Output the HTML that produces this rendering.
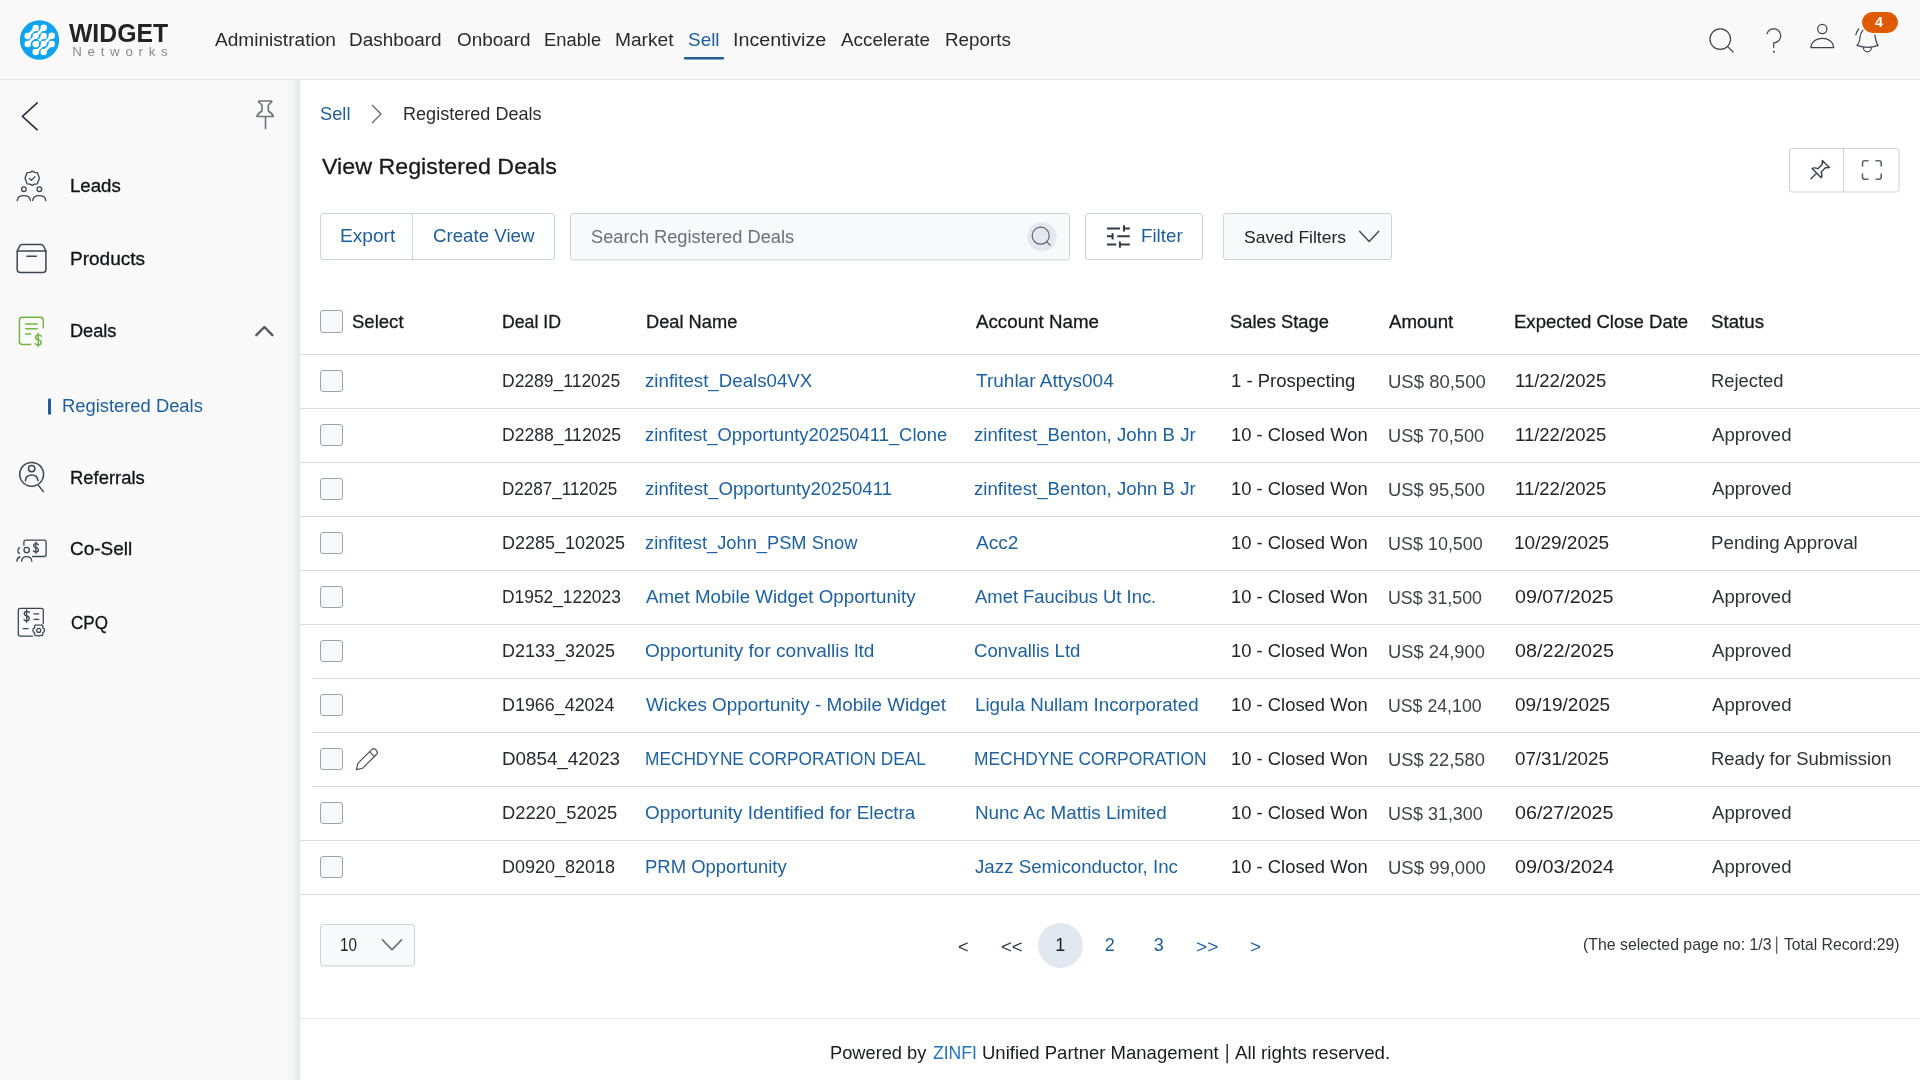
<!DOCTYPE html>
<html><head><meta charset="utf-8"><title>View Registered Deals</title>
<style>
html,body{margin:0;padding:0;width:1920px;height:1080px;overflow:hidden;background:#ffffff;}
body{position:relative;font-family:"Liberation Sans",sans-serif;}
svg.ov{position:absolute;left:0;top:0;}
.t{position:absolute;white-space:nowrap;line-height:1;transform-origin:0 0;font-family:"Liberation Sans",sans-serif;}
</style></head><body>
<svg class="ov" width="1920" height="1080" viewBox="0 0 1920 1080">
<defs>
<linearGradient id="sh" x1="0" x2="1" y1="0" y2="0">
<stop offset="0" stop-color="#f9f9fa" stop-opacity="0"/>
<stop offset="1" stop-color="#e4e6e9" stop-opacity="1"/>
</linearGradient>
</defs>
<!-- header & sidebar backgrounds -->
<rect x="0" y="0" width="1920" height="79" fill="#f9f9fa"/>
<rect x="0" y="79" width="1920" height="1" fill="#e3e6ea"/>
<rect x="0" y="80" width="300" height="1000" fill="#f9f9fa"/>
<rect x="284" y="80" width="16" height="1000" fill="url(#sh)"/>
<!-- logo -->
<circle cx="39.5" cy="40" r="19.7" fill="#10a3ee"/>
<g stroke="#ffffff" stroke-width="2.8" fill="none" stroke-linecap="round">
<path d="M27.7,36 L35.7,28 M27.7,44 L43.7,28 M35.7,44 L43.7,36 M35.7,52 L51.7,36 M43.7,52 L51.7,44"/>
</g>
<g fill="#ffffff">
<circle cx="35.7" cy="28" r="3.2"/><circle cx="43.7" cy="27.7" r="3.2"/>
<circle cx="27.7" cy="36" r="3.2"/><circle cx="35.7" cy="36" r="3"/><circle cx="43.7" cy="36" r="3.2"/><circle cx="51.7" cy="35.7" r="3.2"/>
<circle cx="27.7" cy="44" r="3.2"/><circle cx="35.7" cy="44.3" r="3.2"/><circle cx="43.7" cy="43.7" r="3"/><circle cx="51.7" cy="44" r="3.2"/>
<circle cx="35.7" cy="52" r="3.2"/><circle cx="43.7" cy="52" r="3.2"/>
</g>
<circle cx="35.7" cy="44.3" r="4.3" fill="none" stroke="#10a3ee" stroke-width="1.1"/>
<!-- nav underline -->
<rect x="684" y="57" width="40" height="2.6" rx="1" fill="#1f5c99"/>
<!-- header icons -->
<g stroke="#3b424d" stroke-width="1.2" fill="none" stroke-linecap="round" stroke-linejoin="round">
<circle cx="1720.25" cy="39.1" r="10.3"/>
<path d="M1727.9,46.9 L1733,52"/>
<path d="M1767,33.8 A7,7 0 1 1 1773.7,42.8 L1773.7,47.3"/>
<circle cx="1822.3" cy="29" r="4.6"/>
<path d="M1810.9,47.6 C1811.5,41 1817,38.3 1822.3,38.3 C1827.6,38.3 1833.1,41 1833.7,47.6 Z"/>
<path d="M1862.9,30.1 C1861,32.5 1860.3,35 1860.1,37 C1859.8,40.5 1859.5,43 1856.9,45.4 Q1867.3,49.2 1878.2,45.4 C1875.9,43 1875.8,39.5 1874.9,35.1"/>
<path d="M1863.5,47.9 A3.9,3.9 0 0 0 1871.3,47.9"/>
<path d="M1855.8,34.8 Q1856.6,31.2 1858.8,29" stroke-width="1.2"/>
</g>
<circle cx="1773.9" cy="51.8" r="0.95" fill="#3a414c"/>
<rect x="1862" y="12.1" width="36" height="20.8" rx="10.4" fill="#e05a02"/>
<!-- sidebar icons -->
<g stroke="#2f3648" stroke-width="1.7" fill="none" stroke-linecap="round" stroke-linejoin="round">
<path d="M37.2,102.8 L22.4,116.4 L37.2,129.8"/>
</g>
<g stroke="#707378" stroke-width="1.6" fill="none" stroke-linejoin="round" stroke-linecap="round">
<path d="M259,101 L271.3,101 Q272,101.5 271.5,102.2 L268.3,105 L268.3,111 Q272.5,113.5 273.3,116.5 L256.9,116.5 Q257.7,113.5 262,111 L262,105 L258.8,102.2 Q258.3,101.5 259,101 Z"/>
<path d="M265.5,117 L265.5,128.6"/>
</g>
<g stroke="#3d4554" stroke-width="1.5" fill="none" stroke-linecap="round" stroke-linejoin="round">
<!-- leads -->
<path d="M32.2,171.2 L34.6,172.4 L37.3,172.6 L38.3,175.2 L39.4,178.3 L38.3,181.2 L37.3,183.8 L34.6,184.2 L32.2,185.4 L29.8,184.2 L27.1,183.8 L26.1,181.2 L25,178.3 L26.1,175.2 L27.1,172.6 L29.8,172.4 Z" stroke-width="1.3"/>
<path d="M29.4,178.4 L31.4,180.4 L35,176.6" stroke-width="1.3"/>
<circle cx="23.9" cy="189.2" r="2.3" stroke-width="1.3"/>
<circle cx="39.4" cy="189.2" r="2.3" stroke-width="1.3"/>
<path d="M17.2,200.5 C17.6,197.3 20.3,195.6 23.8,195.6 C27.3,195.6 30,197.3 30.4,200.5" stroke-width="1.3"/>
<path d="M32.6,200.5 C33,197.3 35.7,195.6 39.2,195.6 C42.7,195.6 45.4,197.3 45.8,200.5" stroke-width="1.3"/>
<!-- products -->
<path d="M17.2,251 L19.8,245.8 Q20.6,244.4 22.2,244.4 L41,244.4 Q42.6,244.4 43.4,245.8 L45.9,251 L45.9,269.6 Q45.9,272.6 42.9,272.6 L20.2,272.6 Q17.2,272.6 17.2,269.6 Z"/>
<path d="M17.2,251 L45.9,251"/>
<path d="M26.9,256.2 L36.3,256.2"/>
<!-- referrals -->
<circle cx="31.65" cy="474.3" r="11.9"/>
<circle cx="31.7" cy="468.6" r="3.2"/>
<path d="M25.4,480.8 C25.8,476.8 28.3,475 31.7,475 C35.1,475 37.6,476.8 38,480.8"/>
<path d="M38.6,485.6 L43.4,491.6"/>
<!-- co-sell -->
<path d="M23.9,545.2 L23.9,542.2 Q23.9,540.2 25.9,540.2 L44.1,540.2 Q46.1,540.2 46.1,542.2 L46.1,554.5 Q46.1,556.5 44.1,556.5 L32.5,556.5" stroke-width="1.3"/>
<circle cx="26.7" cy="550" r="2.7" stroke-width="1.3"/>
<path d="M21.6,561.2 C21.8,558.3 23.8,556.6 26.7,556.6 C29.6,556.6 31.6,558.3 31.8,561.2" stroke-width="1.3"/>
<path d="M19.6,547.6 C17.6,548.4 17.2,552.4 19.4,553.4" stroke-width="1.3"/>
<path d="M16.9,561.2 C17,559 18.2,557.4 20,557" stroke-width="1.3"/>
<path d="M38.3,544.6 Q37.6,543.6 35.9,543.6 Q33.6,543.6 33.6,545.5 Q33.6,547.2 35.9,547.6 Q38.4,548 38.4,550 Q38.4,552 35.9,552 Q34,552 33.4,550.9 M35.9,542.2 L35.9,553.4" stroke-width="1.3"/>
<!-- cpq -->
<path d="M32.5,636.1 L20.3,636.1 Q18.3,636.1 18.3,634.1 L18.3,610.3 Q18.3,608.3 20.3,608.3 L41.3,608.3 Q43.3,608.3 43.3,610.3 L43.3,623.5" stroke-width="1.3"/>
<path d="M29.3,612.4 Q28.6,611.4 26.7,611.4 Q24.3,611.4 24.3,613.6 Q24.3,615.6 26.7,616 Q29.2,616.4 29.2,618.6 Q29.2,620.8 26.7,620.8 Q24.7,620.8 24,619.6 M26.7,610 L26.7,622.3" stroke-width="1.3"/>
<path d="M34,613.9 L38.7,613.9 M34,619.4 L38.7,619.4 M23.3,628.7 L28.1,628.7" stroke-width="1.3"/>
<path d="M38.7,624.8 L40.3,625.3 L41.8,624.8 L43,626 L42.6,627.7 L44.4,629 L44.4,631.6 L42.6,632.9 L43,634.6 L41.8,635.8 L40.3,635.3 L38.7,636.3 L37.1,635.3 L35.6,635.8 L34.4,634.6 L34.8,632.9 L33,631.6 L33,629 L34.8,627.7 L34.4,626 L35.6,624.8 L37.1,625.3 Z" stroke-width="1.2"/>
<circle cx="38.7" cy="630.4" r="2" stroke-width="1.2"/>
</g>
<!-- deals icon (green) -->
<g stroke="#74b543" stroke-width="1.5" fill="none" stroke-linecap="round" stroke-linejoin="round">
<path d="M30.6,344.4 L22.4,344.4 Q19.4,344.4 19.4,341.4 L19.4,320.2 Q19.4,317.2 22.4,317.2 L40.3,317.2 Q43.3,317.2 43.3,320.2 L43.3,327.8"/>
<path d="M25.6,323.9 L37.2,323.9 M25.6,328.7 L37.2,328.7 M25.6,333.9 L30.6,333.9"/>
<path d="M41.3,336.2 Q40.5,335 38.3,335 Q35.6,335 35.6,337.4 Q35.6,339.4 38.3,339.8 Q41.2,340.2 41.2,342.6 Q41.2,345 38.3,345 Q36,345 35.2,343.6 M38.3,333.2 L38.3,346.6"/>
</g>
<path d="M256.3,335.2 L264.4,327 L272.4,335.2" stroke="#555a60" stroke-width="2.4" fill="none" stroke-linecap="round" stroke-linejoin="round"/>
<rect x="48" y="398.2" width="3" height="16.6" rx="1.5" fill="#1f5c99"/>
<!-- breadcrumb chevron -->
<path d="M372,105 L381,114 L372,123" stroke="#5f646b" stroke-width="1.2" fill="none" stroke-linejoin="round"/>
<!-- pin/expand group -->
<rect x="1789.5" y="148.5" width="109.5" height="43.5" rx="2.5" fill="#ffffff" stroke="#cdd2d9"/>
<path d="M1843.5,148.5 L1843.5,192" stroke="#cdd2d9"/>
<g transform="translate(1818.8,171) rotate(45)" stroke="#3a414c" stroke-width="1.4" fill="none" stroke-linejoin="round" stroke-linecap="round">
<path d="M-5,-10 L5,-10 L2.3,-7 L2.3,-1 Q6,0.5 6.5,3 L-6.5,3 Q-6,0.5 -2.3,-1 L-2.3,-7 Z"/>
<path d="M0,3 L0,11"/>
</g>
<path d="M1862.5,166 L1862.5,163 Q1862.5,160.8 1864.7,160.8 L1868,160.8 M1876,160.8 L1879,160.8 Q1881.2,160.8 1881.2,163 L1881.2,166 M1881.2,174 L1881.2,177 Q1881.2,179.2 1879,179.2 L1876,179.2 M1868,179.2 L1864.7,179.2 Q1862.5,179.2 1862.5,177 L1862.5,174" stroke="#5f646b" stroke-width="1.6" fill="none" stroke-linecap="round"/>
<!-- toolbar -->
<rect x="320.5" y="213.5" width="234" height="46" rx="2.5" fill="#ffffff" stroke="#cdd3da"/>
<path d="M412.5,213.5 L412.5,259.5" stroke="#cdd3da"/>
<rect x="570.5" y="213.5" width="499" height="46.5" rx="2.5" fill="#f7f9fb" stroke="#cdd3da"/>
<circle cx="1042" cy="236.8" r="14.6" fill="#e3e8ef"/>
<circle cx="1040.7" cy="235.7" r="8.5" stroke="#5d636c" stroke-width="1.2" fill="none"/>
<path d="M1046.8,241.8 L1050.6,245.6" stroke="#5d636c" stroke-width="1.2"/>
<rect x="1085.5" y="213.5" width="117" height="46" rx="2.5" fill="#ffffff" stroke="#cdd3da"/>
<g stroke="#333a44" stroke-width="2" fill="none">
<path d="M1107,228.4 H1120 M1124,228.4 H1129.8 M1124,225.3 V231.5"/>
<path d="M1107,236.3 H1113 M1117.3,236.3 H1129.8 M1112.6,233.2 V239.4"/>
<path d="M1107,244.4 H1116.3 M1119.9,244.4 H1129.8 M1119.9,241.5 V247.7"/>
</g>
<rect x="1223.5" y="213.5" width="168" height="46" rx="2.5" fill="#f7f9fb" stroke="#cdd3da"/>
<path d="M1359.3,231 L1369.2,241.5 L1379,231" stroke="#4a4f57" stroke-width="1.6" fill="none" stroke-linejoin="round"/>
<!-- table lines -->
<g stroke="#d6dbe2" stroke-width="1">
<path d="M300,354.5 H1920 M300,408.5 H1920 M300,462.5 H1920 M300,516.5 H1920 M300,570.5 H1920 M300,624.5 H1920 M312,678.5 H1920 M312,732.5 H1920 M312,786.5 H1920 M300,840.5 H1920 M300,894.5 H1920"/>
</g>
<!-- checkboxes -->
<g fill="#f6f8fa" stroke="#9ca3ad" stroke-width="1">
<rect x="320.5" y="310.5" width="22" height="22" rx="2.5"/>
<rect x="320.5" y="370.5" width="22" height="21" rx="2.5"/>
<rect x="320.5" y="424.5" width="22" height="21" rx="2.5"/>
<rect x="320.5" y="478.5" width="22" height="21" rx="2.5"/>
<rect x="320.5" y="532.5" width="22" height="21" rx="2.5"/>
<rect x="320.5" y="586.5" width="22" height="21" rx="2.5"/>
<rect x="320.5" y="640.5" width="22" height="21" rx="2.5"/>
<rect x="320.5" y="694.5" width="22" height="21" rx="2.5"/>
<rect x="320.5" y="748.5" width="22" height="21" rx="2.5"/>
<rect x="320.5" y="802.5" width="22" height="21" rx="2.5"/>
<rect x="320.5" y="856.5" width="22" height="21" rx="2.5"/>
</g>
<!-- pencil -->
<g stroke="#484d55" stroke-width="1.15" fill="none" stroke-linejoin="round" stroke-linecap="round">
<path d="M356.3,769.6 L357.9,763.4 L371.6,749.7 Q373.6,747.7 375.6,749.7 L376.4,750.5 Q378.4,752.5 376.4,754.5 L362.7,768.2 Z"/>
<path d="M369.6,751.7 L374.5,756.6"/>
</g>
<!-- pagination -->
<rect x="320.5" y="924.5" width="94" height="41.5" rx="2.5" fill="#f7f9fb" stroke="#cdd3da"/>
<path d="M382,939.2 L392,949.7 L402,939.2" stroke="#606469" stroke-width="1.55" fill="none" stroke-linejoin="round"/>
<circle cx="1060.4" cy="945.4" r="22.5" fill="#e2e8f0"/>
<path d="M1776.7,936.5 L1776.7,953.8" stroke="#4a4f57" stroke-width="1.2"/>
<!-- footer -->
<rect x="300" y="1018" width="1620" height="1" fill="#e5e7eb"/>
<path d="M1227.2,1043.9 L1227.2,1063.3" stroke="#222" stroke-width="1.4"/>
</svg>
<div id="txt" style="position:absolute;left:0;top:0;width:1920px;height:1080px;will-change:transform;">
<div class="t" id="logo1" style="left:69.30px;top:19.67px;font-size:26.50px;color:#232323;font-weight:700;transform:scaleX(0.9343);">WIDGET</div>
<div class="t" id="logo2" style="left:72.20px;top:44.58px;font-size:13.25px;color:#8a8a8a;letter-spacing:5.757px;">Networks</div>
<div class="t" id="nav0" style="left:214.75px;top:29.85px;font-size:19.08px;color:#2a2a2a;transform:scaleX(1.0001);">Administration</div>
<div class="t" id="nav1" style="left:349.32px;top:29.85px;font-size:19.08px;color:#2a2a2a;transform:scaleX(0.9916);">Dashboard</div>
<div class="t" id="nav2" style="left:456.75px;top:29.85px;font-size:19.08px;color:#2a2a2a;transform:scaleX(0.9889);">Onboard</div>
<div class="t" id="nav3" style="left:543.62px;top:29.85px;font-size:19.08px;color:#2a2a2a;transform:scaleX(0.9612);">Enable</div>
<div class="t" id="nav4" style="left:615.40px;top:29.85px;font-size:19.08px;color:#2a2a2a;transform:scaleX(1.0031);">Market</div>
<div class="t" id="nav5" style="left:688.46px;top:29.85px;font-size:19.08px;color:#1d5d9a;transform:scaleX(0.9922);">Sell</div>
<div class="t" id="nav6" style="left:733.26px;top:29.85px;font-size:19.08px;color:#2a2a2a;transform:scaleX(1.0346);">Incentivize</div>
<div class="t" id="nav7" style="left:841.41px;top:29.85px;font-size:19.08px;color:#2a2a2a;transform:scaleX(0.9879);">Accelerate</div>
<div class="t" id="nav8" style="left:945.45px;top:29.85px;font-size:19.08px;color:#2a2a2a;transform:scaleX(0.9867);">Reports</div>
<div class="t" id="side0" style="left:69.76px;top:175.55px;font-size:19.08px;color:#0f1114;-webkit-text-stroke:0.3px #0f1114;transform:scaleX(0.9765);">Leads</div>
<div class="t" id="side1" style="left:69.56px;top:248.55px;font-size:19.08px;color:#0f1114;-webkit-text-stroke:0.3px #0f1114;transform:scaleX(0.9977);">Products</div>
<div class="t" id="side2" style="left:69.64px;top:320.75px;font-size:19.08px;color:#0f1114;-webkit-text-stroke:0.3px #0f1114;transform:scaleX(0.9518);">Deals</div>
<div class="t" id="side3" style="left:69.62px;top:467.75px;font-size:19.08px;color:#0f1114;-webkit-text-stroke:0.3px #0f1114;transform:scaleX(0.9648);">Referrals</div>
<div class="t" id="side4" style="left:69.56px;top:539.45px;font-size:19.08px;color:#0f1114;-webkit-text-stroke:0.3px #0f1114;transform:scaleX(0.9953);">Co-Sell</div>
<div class="t" id="side5" style="left:70.60px;top:612.75px;font-size:19.08px;color:#0f1114;-webkit-text-stroke:0.3px #0f1114;transform:scaleX(0.8925);">CPQ</div>
<div class="t" id="subreg" style="left:61.64px;top:397.45px;font-size:18.02px;color:#1d5d9a;transform:scaleX(1.0192);">Registered Deals</div>
<div class="t" id="bc1" style="left:319.90px;top:105.45px;font-size:18.02px;color:#1d5d9a;transform:scaleX(1.0146);">Sell</div>
<div class="t" id="bc2" style="left:402.79px;top:105.45px;font-size:18.02px;color:#2b2b2b;transform:scaleX(1.0029);">Registered Deals</div>
<div class="t" id="title" style="left:321.63px;top:155.74px;font-size:22.40px;color:#1a1a1a;-webkit-text-stroke:0.3px #1a1a1a;transform:scaleX(1.0385);">View Registered Deals</div>
<div class="t" id="exp" style="left:340.42px;top:226.55px;font-size:18.02px;color:#1d5d9a;transform:scaleX(1.0616);">Export</div>
<div class="t" id="cv" style="left:432.64px;top:226.55px;font-size:18.02px;color:#1d5d9a;transform:scaleX(1.0370);">Create View</div>
<div class="t" id="srch" style="left:590.90px;top:227.65px;font-size:18.02px;color:#6b7079;transform:scaleX(1.0146);">Search Registered Deals</div>
<div class="t" id="filt" style="left:1140.67px;top:225.85px;font-size:19.08px;color:#1d5d9a;transform:scaleX(0.9817);">Filter</div>
<div class="t" id="savf" style="left:1244.24px;top:230.34px;font-size:16.96px;color:#222222;transform:scaleX(1.0319);">Saved Filters</div>
<div class="t" id="h0" style="left:351.54px;top:312.75px;font-size:18.02px;color:#17191c;-webkit-text-stroke:0.3px #17191c;transform:scaleX(1.0294);">Select</div>
<div class="t" id="h1" style="left:502.38px;top:312.75px;font-size:18.02px;color:#17191c;-webkit-text-stroke:0.3px #17191c;transform:scaleX(0.9824);">Deal ID</div>
<div class="t" id="h2" style="left:645.53px;top:312.75px;font-size:18.02px;color:#17191c;-webkit-text-stroke:0.3px #17191c;transform:scaleX(1.0129);">Deal Name</div>
<div class="t" id="h3" style="left:975.81px;top:312.75px;font-size:18.02px;color:#17191c;-webkit-text-stroke:0.3px #17191c;transform:scaleX(1.0403);">Account Name</div>
<div class="t" id="h4" style="left:1230.45px;top:312.75px;font-size:18.02px;color:#17191c;-webkit-text-stroke:0.3px #17191c;transform:scaleX(1.0174);">Sales Stage</div>
<div class="t" id="h5" style="left:1388.78px;top:312.75px;font-size:18.02px;color:#17191c;-webkit-text-stroke:0.3px #17191c;transform:scaleX(1.0355);">Amount</div>
<div class="t" id="h6" style="left:1514.35px;top:312.75px;font-size:18.02px;color:#17191c;-webkit-text-stroke:0.3px #17191c;transform:scaleX(1.0292);">Expected Close Date</div>
<div class="t" id="h7" style="left:1711.18px;top:312.75px;font-size:18.02px;color:#17191c;-webkit-text-stroke:0.3px #17191c;transform:scaleX(1.0385);">Status</div>
<div class="t" id="r0c0" style="left:502.25px;top:371.65px;font-size:18.02px;color:#26292e;transform:scaleX(0.9704);">D2289_112025</div>
<div class="t" id="r0c1" style="left:645.34px;top:371.65px;font-size:18.02px;color:#1f619e;transform:scaleX(1.0374);">zinfitest_Deals04VX</div>
<div class="t" id="r0c2" style="left:975.79px;top:371.65px;font-size:18.02px;color:#1f619e;transform:scaleX(1.0555);">Truhlar Attys004</div>
<div class="t" id="r0c3" style="left:1230.76px;top:371.65px;font-size:18.02px;color:#222428;transform:scaleX(1.0264);">1 - Prospecting</div>
<div class="t" id="r0c4" style="left:1387.66px;top:372.65px;font-size:18.02px;color:#3f4348;transform:scaleX(1.0273);">US$ 80,500</div>
<div class="t" id="r0c5" style="left:1514.50px;top:371.65px;font-size:18.02px;color:#222428;transform:scaleX(1.0264);">11/22/2025</div>
<div class="t" id="r0c6" style="left:1711.36px;top:371.65px;font-size:18.02px;color:#2e3136;transform:scaleX(1.0197);">Rejected</div>
<div class="t" id="r1c0" style="left:502.24px;top:425.65px;font-size:18.02px;color:#26292e;transform:scaleX(0.9766);">D2288_112025</div>
<div class="t" id="r1c1" style="left:645.35px;top:425.65px;font-size:18.02px;color:#1f619e;transform:scaleX(1.0203);">zinfitest_Opportunty20250411_Clone</div>
<div class="t" id="r1c2" style="left:974.30px;top:425.65px;font-size:18.02px;color:#1f619e;transform:scaleX(1.0343);">zinfitest_Benton, John B Jr</div>
<div class="t" id="r1c3" style="left:1230.77px;top:425.65px;font-size:18.02px;color:#222428;transform:scaleX(1.0209);">10 - Closed Won</div>
<div class="t" id="r1c4" style="left:1387.66px;top:426.65px;font-size:18.02px;color:#3f4348;transform:scaleX(1.0106);">US$ 70,500</div>
<div class="t" id="r1c5" style="left:1514.50px;top:425.65px;font-size:18.02px;color:#222428;transform:scaleX(1.0264);">11/22/2025</div>
<div class="t" id="r1c6" style="left:1712.38px;top:425.65px;font-size:18.02px;color:#2e3136;transform:scaleX(1.0309);">Approved</div>
<div class="t" id="r2c0" style="left:502.27px;top:479.65px;font-size:18.02px;color:#26292e;transform:scaleX(0.9456);">D2287_112025</div>
<div class="t" id="r2c1" style="left:645.34px;top:479.65px;font-size:18.02px;color:#1f619e;transform:scaleX(1.0335);">zinfitest_Opportunty20250411</div>
<div class="t" id="r2c2" style="left:974.30px;top:479.65px;font-size:18.02px;color:#1f619e;transform:scaleX(1.0343);">zinfitest_Benton, John B Jr</div>
<div class="t" id="r2c3" style="left:1230.77px;top:479.65px;font-size:18.02px;color:#222428;transform:scaleX(1.0209);">10 - Closed Won</div>
<div class="t" id="r2c4" style="left:1387.64px;top:480.65px;font-size:18.02px;color:#3f4348;transform:scaleX(1.0188);">US$ 95,500</div>
<div class="t" id="r2c5" style="left:1514.50px;top:479.65px;font-size:18.02px;color:#222428;transform:scaleX(1.0264);">11/22/2025</div>
<div class="t" id="r2c6" style="left:1712.38px;top:479.65px;font-size:18.02px;color:#2e3136;transform:scaleX(1.0309);">Approved</div>
<div class="t" id="r3c0" style="left:502.22px;top:533.65px;font-size:18.02px;color:#26292e;transform:scaleX(0.9982);">D2285_102025</div>
<div class="t" id="r3c1" style="left:645.36px;top:533.65px;font-size:18.02px;color:#1f619e;transform:scaleX(1.0149);">zinfitest_John_PSM Snow</div>
<div class="t" id="r3c2" style="left:975.78px;top:533.65px;font-size:18.02px;color:#1f619e;transform:scaleX(1.0576);">Acc2</div>
<div class="t" id="r3c3" style="left:1230.77px;top:533.65px;font-size:18.02px;color:#222428;transform:scaleX(1.0209);">10 - Closed Won</div>
<div class="t" id="r3c4" style="left:1387.66px;top:534.65px;font-size:18.02px;color:#3f4348;transform:scaleX(0.9965);">US$ 10,500</div>
<div class="t" id="r3c5" style="left:1514.47px;top:533.65px;font-size:18.02px;color:#222428;transform:scaleX(1.0552);">10/29/2025</div>
<div class="t" id="r3c6" style="left:1711.34px;top:533.65px;font-size:18.02px;color:#2e3136;transform:scaleX(1.0390);">Pending Approval</div>
<div class="t" id="r4c0" style="left:502.25px;top:587.65px;font-size:18.02px;color:#26292e;transform:scaleX(0.9645);">D1952_122023</div>
<div class="t" id="r4c1" style="left:646.38px;top:587.65px;font-size:18.02px;color:#1f619e;transform:scaleX(1.0393);">Amet Mobile Widget Opportunity</div>
<div class="t" id="r4c2" style="left:975.31px;top:587.65px;font-size:18.02px;color:#1f619e;transform:scaleX(1.0225);">Amet Faucibus Ut Inc.</div>
<div class="t" id="r4c3" style="left:1230.77px;top:587.65px;font-size:18.02px;color:#222428;transform:scaleX(1.0209);">10 - Closed Won</div>
<div class="t" id="r4c4" style="left:1387.67px;top:588.65px;font-size:18.02px;color:#3f4348;transform:scaleX(0.9880);">US$ 31,500</div>
<div class="t" id="r4c5" style="left:1514.53px;top:587.65px;font-size:18.02px;color:#222428;transform:scaleX(1.0926);">09/07/2025</div>
<div class="t" id="r4c6" style="left:1712.38px;top:587.65px;font-size:18.02px;color:#2e3136;transform:scaleX(1.0309);">Approved</div>
<div class="t" id="r5c0" style="left:502.22px;top:641.65px;font-size:18.02px;color:#26292e;transform:scaleX(0.9980);">D2133_32025</div>
<div class="t" id="r5c1" style="left:645.33px;top:641.65px;font-size:18.02px;color:#1f619e;transform:scaleX(1.0555);">Opportunity for convallis ltd</div>
<div class="t" id="r5c2" style="left:974.29px;top:641.65px;font-size:18.02px;color:#1f619e;transform:scaleX(1.0316);">Convallis Ltd</div>
<div class="t" id="r5c3" style="left:1230.77px;top:641.65px;font-size:18.02px;color:#222428;transform:scaleX(1.0209);">10 - Closed Won</div>
<div class="t" id="r5c4" style="left:1387.64px;top:642.65px;font-size:18.02px;color:#3f4348;transform:scaleX(1.0188);">US$ 24,900</div>
<div class="t" id="r5c5" style="left:1514.53px;top:641.65px;font-size:18.02px;color:#222428;transform:scaleX(1.0971);">08/22/2025</div>
<div class="t" id="r5c6" style="left:1712.38px;top:641.65px;font-size:18.02px;color:#2e3136;transform:scaleX(1.0309);">Approved</div>
<div class="t" id="r6c0" style="left:502.22px;top:695.65px;font-size:18.02px;color:#26292e;transform:scaleX(0.9936);">D1966_42024</div>
<div class="t" id="r6c1" style="left:646.38px;top:695.65px;font-size:18.02px;color:#1f619e;transform:scaleX(1.0478);">Wickes Opportunity - Mobile Widget</div>
<div class="t" id="r6c2" style="left:974.76px;top:695.65px;font-size:18.02px;color:#1f619e;transform:scaleX(1.0385);">Ligula Nullam Incorporated</div>
<div class="t" id="r6c3" style="left:1230.77px;top:695.65px;font-size:18.02px;color:#222428;transform:scaleX(1.0209);">10 - Closed Won</div>
<div class="t" id="r6c4" style="left:1387.68px;top:696.65px;font-size:18.02px;color:#3f4348;transform:scaleX(0.9838);">US$ 24,100</div>
<div class="t" id="r6c5" style="left:1514.52px;top:695.65px;font-size:18.02px;color:#222428;transform:scaleX(1.0548);">09/19/2025</div>
<div class="t" id="r6c6" style="left:1712.38px;top:695.65px;font-size:18.02px;color:#2e3136;transform:scaleX(1.0309);">Approved</div>
<div class="t" id="r7c0" style="left:502.18px;top:749.65px;font-size:18.02px;color:#26292e;transform:scaleX(1.0427);">D0854_42023</div>
<div class="t" id="r7c1" style="left:645.44px;top:749.65px;font-size:18.02px;color:#1f619e;transform:scaleX(0.9591);">MECHDYNE CORPORATION DEAL</div>
<div class="t" id="r7c2" style="left:974.37px;top:749.65px;font-size:18.02px;color:#1f619e;transform:scaleX(0.9658);">MECHDYNE CORPORATION</div>
<div class="t" id="r7c3" style="left:1230.77px;top:749.65px;font-size:18.02px;color:#222428;transform:scaleX(1.0209);">10 - Closed Won</div>
<div class="t" id="r7c4" style="left:1387.64px;top:750.65px;font-size:18.02px;color:#3f4348;transform:scaleX(1.0188);">US$ 22,580</div>
<div class="t" id="r7c5" style="left:1514.51px;top:749.65px;font-size:18.02px;color:#222428;transform:scaleX(1.0416);">07/31/2025</div>
<div class="t" id="r7c6" style="left:1711.35px;top:749.65px;font-size:18.02px;color:#2e3136;transform:scaleX(1.0249);">Ready for Submission</div>
<div class="t" id="r8c0" style="left:502.20px;top:803.65px;font-size:18.02px;color:#26292e;transform:scaleX(1.0171);">D2220_52025</div>
<div class="t" id="r8c1" style="left:645.33px;top:803.65px;font-size:18.02px;color:#1f619e;transform:scaleX(1.0464);">Opportunity Identified for Electra</div>
<div class="t" id="r8c2" style="left:974.75px;top:803.65px;font-size:18.02px;color:#1f619e;transform:scaleX(1.0467);">Nunc Ac Mattis Limited</div>
<div class="t" id="r8c3" style="left:1230.77px;top:803.65px;font-size:18.02px;color:#222428;transform:scaleX(1.0209);">10 - Closed Won</div>
<div class="t" id="r8c4" style="left:1387.66px;top:804.65px;font-size:18.02px;color:#3f4348;transform:scaleX(0.9965);">US$ 31,300</div>
<div class="t" id="r8c5" style="left:1514.53px;top:803.65px;font-size:18.02px;color:#222428;transform:scaleX(1.0926);">06/27/2025</div>
<div class="t" id="r8c6" style="left:1712.38px;top:803.65px;font-size:18.02px;color:#2e3136;transform:scaleX(1.0309);">Approved</div>
<div class="t" id="r9c0" style="left:502.21px;top:857.65px;font-size:18.02px;color:#26292e;transform:scaleX(0.9992);">D0920_82018</div>
<div class="t" id="r9c1" style="left:645.33px;top:857.65px;font-size:18.02px;color:#1f619e;transform:scaleX(1.0255);">PRM Opportunity</div>
<div class="t" id="r9c2" style="left:975.31px;top:857.65px;font-size:18.02px;color:#1f619e;transform:scaleX(1.0395);">Jazz Semiconductor, Inc</div>
<div class="t" id="r9c3" style="left:1230.77px;top:857.65px;font-size:18.02px;color:#222428;transform:scaleX(1.0209);">10 - Closed Won</div>
<div class="t" id="r9c4" style="left:1387.66px;top:858.65px;font-size:18.02px;color:#3f4348;transform:scaleX(1.0273);">US$ 99,000</div>
<div class="t" id="r9c5" style="left:1514.53px;top:857.65px;font-size:18.02px;color:#222428;transform:scaleX(1.0992);">09/03/2024</div>
<div class="t" id="r9c6" style="left:1712.38px;top:857.65px;font-size:18.02px;color:#2e3136;transform:scaleX(1.0309);">Approved</div>
<div class="t" id="pg10" style="left:340.35px;top:935.95px;font-size:18.02px;color:#222222;transform:scaleX(0.8454);">10</div>
<div class="t" id="pg0" style="left:957.70px;top:937.75px;font-size:18.02px;color:#2d3440;transform:scaleX(1.0125);">&lt;</div>
<div class="t" id="pg1" style="left:1000.76px;top:937.75px;font-size:18.02px;color:#2d3440;transform:scaleX(1.0315);">&lt;&lt;</div>
<div class="t" id="pg2" style="left:1055.36px;top:935.75px;font-size:18.02px;color:#1e2228;transform:scaleX(1.0000);">1</div>
<div class="t" id="pg3" style="left:1104.85px;top:935.75px;font-size:18.02px;color:#1d5d9a;transform:scaleX(1.0000);">2</div>
<div class="t" id="pg4" style="left:1153.78px;top:935.75px;font-size:18.02px;color:#1d5d9a;transform:scaleX(1.0000);">3</div>
<div class="t" id="pg5" style="left:1195.86px;top:937.75px;font-size:18.02px;color:#1d5d9a;transform:scaleX(1.0648);">&gt;&gt;</div>
<div class="t" id="pg6" style="left:1250.47px;top:937.75px;font-size:18.02px;color:#1d5d9a;transform:scaleX(1.0455);">&gt;</div>
<div class="t" id="pinfo1" style="left:1582.62px;top:937.04px;font-size:16.96px;color:#303338;transform:scaleX(0.9352);">(The selected page no: 1/3</div>
<div class="t" id="pinfo2" style="left:1784.10px;top:937.04px;font-size:16.96px;color:#303338;transform:scaleX(0.9289);">Total Record:29)</div>
<div class="t" id="f1" style="left:829.67px;top:1043.95px;font-size:18.02px;color:#1a1c20;transform:scaleX(1.0129);">Powered by</div>
<div class="t" id="f2" style="left:932.73px;top:1043.95px;font-size:18.02px;color:#2272b8;transform:scaleX(0.9753);">ZINFI</div>
<div class="t" id="f3" style="left:981.50px;top:1043.95px;font-size:18.02px;color:#1a1c20;transform:scaleX(1.0274);">Unified Partner Management</div>
<div class="t" id="f4" style="left:1235.38px;top:1043.95px;font-size:18.02px;color:#1a1c20;transform:scaleX(1.0405);">All rights reserved.</div>
<div class="t" id="badge" style="left:1875.32px;top:15.14px;font-size:14.84px;color:#ffffff;font-weight:700;transform:scaleX(0.9580);">4</div>
</div>
</body></html>
